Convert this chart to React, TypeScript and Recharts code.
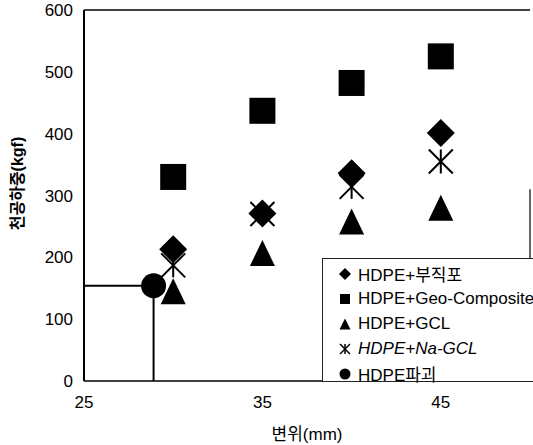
import React from 'react';
import { ScatterChart, Scatter, XAxis, YAxis, ReferenceLine, Legend } from 'recharts';

// displacement (mm) at which each test was read
const displacements = [30, 35, 40, 45];

// puncture load (kgf) per liner combination
const nonwovenLoads = [213, 271, 336, 401];
const geoCompositeLoads = [330, 437, 482, 525];
const gclLoads = [145, 207, 258, 280];
const naGclLoads = [187, 270, 314, 355];

// bare HDPE failure point
const failureDisplacement = [28.9];
const failureLoad = [154];

const xTicks = [25, 35, 45];
const yTicks = [0, 100, 200, 300, 400, 500, 600];

const seriesNames = ['HDPE+부직포', 'HDPE+Geo-Composite', 'HDPE+GCL', 'HDPE+Na-GCL', 'HDPE파괴'];

const FONT = '"Liberation Sans", Arial, "Noto Sans CJK KR", sans-serif';

const toPoints = (ys: number[], xs: number[] = displacements) => xs.map((x, i) => ({ x, y: ys[i] }));

const Diamond = ({ cx, cy, r = 14 }: any) => (
  <polygon points={`${cx},${cy - r} ${cx + r},${cy} ${cx},${cy + r} ${cx - r},${cy}`} fill="#000" />
);

const Square = ({ cx, cy, s = 26 }: any) => (
  <rect x={cx - s / 2} y={cy - s / 2} width={s} height={s} fill="#000" />
);

const Triangle = ({ cx, cy, w = 25, h = 26 }: any) => (
  <polygon points={`${cx},${cy - h / 2} ${cx + w / 2},${cy + h / 2} ${cx - w / 2},${cy + h / 2}`} fill="#000" />
);

const Asterisk = ({ cx, cy, r = 12, sw = 2 }: any) => (
  <g stroke="#000" strokeWidth={sw}>
    <line x1={cx} y1={cy - r} x2={cx} y2={cy + r} />
    <line x1={cx - r} y1={cy - r} x2={cx + r} y2={cy + r} />
    <line x1={cx + r} y1={cy - r} x2={cx - r} y2={cy + r} />
  </g>
);

const Dot = ({ cx, cy, r = 12.5 }: any) => <circle cx={cx} cy={cy} r={r} fill="#000" />;

const legendIcons = [
  <Diamond cx={7} cy={7} r={6} />,
  <Square cx={7} cy={7} s={10} />,
  <Triangle cx={7} cy={7} w={11} h={11} />,
  <Asterisk cx={7} cy={7} r={5} sw={1.5} />,
  <Dot cx={7} cy={7} r={5.5} />,
];

const LegendBox = () => (
  <div
    style={{
      border: '1px solid #222',
      background: '#fff',
      padding: '2px 0 0 15px',
      height: 124,
      boxSizing: 'border-box',
      fontFamily: FONT,
      fontSize: 17,
      color: '#000',
    }}
  >
    {seriesNames.map((name, i) => (
      <div key={name} style={{ display: 'flex', alignItems: 'center', height: 25, whiteSpace: 'nowrap' }}>
        <svg width={14} height={14} style={{ marginRight: 6 }}>{legendIcons[i]}</svg>
        <span style={{ fontStyle: i === 3 ? 'italic' : 'normal' }}>{name}</span>
      </div>
    ))}
  </div>
);

const YLabel = ({ viewBox }: any) => {
  const x = viewBox.x + 17;
  const y = viewBox.y + viewBox.height / 2 - 12;
  return (
    <text
      x={x}
      y={y}
      transform={`rotate(-90, ${x}, ${y})`}
      textAnchor="middle"
      dominantBaseline="central"
      fontFamily={FONT}
      fontSize={16}
      fontWeight="bold"
      fill="#000"
    >
      천공하중(kgf)
    </text>
  );
};

export default function App() {
  return (
    <div style={{ position: 'absolute', left: 0, top: 0, background: '#fff' }}>
      <ScatterChart width={533} height={445} margin={{ top: 10, right: 3, bottom: 0, left: 0 }}>
        <XAxis
          type="number"
          dataKey="x"
          domain={[25, 50]}
          ticks={xTicks}
          height={64}
          tickSize={0}
          tickMargin={15}
          tick={{ fill: '#000', fontSize: 17, fontFamily: FONT }}
          axisLine={{ stroke: '#000', strokeWidth: 1.5 }}
          label={{ value: '변위(mm)', position: 'insideBottom', offset: 5, fill: '#000', fontSize: 17, fontFamily: FONT }}
        />
        <YAxis
          type="number"
          dataKey="y"
          domain={[0, 600]}
          ticks={yTicks}
          width={84}
          tickSize={0}
          tickMargin={11}
          tick={{ fill: '#000', fontSize: 17, fontFamily: FONT }}
          axisLine={{ stroke: '#000', strokeWidth: 2 }}
          label={<YLabel />}
        />
        <ReferenceLine y={600} stroke="#000" strokeWidth={1.5} />
        <ReferenceLine segment={[{ x: 50, y: 0 }, { x: 50, y: 310 }]} stroke="#000" strokeWidth={1.2} />
        <ReferenceLine
          segment={[{ x: 25, y: failureLoad[0] }, { x: failureDisplacement[0], y: failureLoad[0] }]}
          stroke="#000"
          strokeWidth={2}
        />
        <ReferenceLine
          segment={[{ x: failureDisplacement[0], y: failureLoad[0] }, { x: failureDisplacement[0], y: 0 }]}
          stroke="#000"
          strokeWidth={2}
        />
        <Legend
          layout="horizontal"
          align="center"
          verticalAlign="middle"
          content={<LegendBox />}
          wrapperStyle={{ position: 'absolute', left: 322, top: 258, width: 230 }}
        />
        <Scatter name={seriesNames[4]} data={toPoints(failureLoad, failureDisplacement)} shape={<Dot />} isAnimationActive={false} />
        <Scatter name={seriesNames[2]} data={toPoints(gclLoads)} shape={<Triangle />} isAnimationActive={false} />
        <Scatter name={seriesNames[3]} data={toPoints(naGclLoads)} shape={<Asterisk />} isAnimationActive={false} />
        <Scatter name={seriesNames[0]} data={toPoints(nonwovenLoads)} shape={<Diamond />} isAnimationActive={false} />
        <Scatter name={seriesNames[1]} data={toPoints(geoCompositeLoads)} shape={<Square />} isAnimationActive={false} />
      </ScatterChart>
    </div>
  );
}
